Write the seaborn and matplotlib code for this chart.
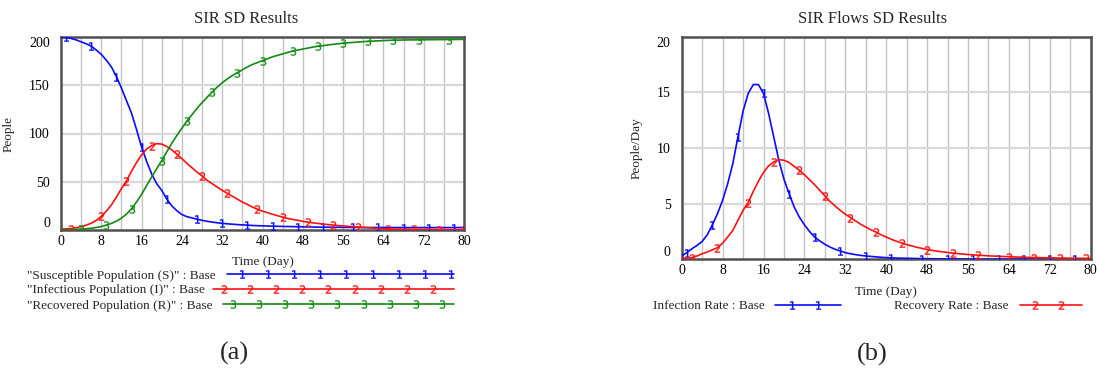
import numpy as np
import pandas as pd
import matplotlib
matplotlib.use("Agg")
import matplotlib.pyplot as plt
import seaborn as sns

# ---------------- data ----------------
days = list(range(0, 81))

susceptible = [200, 199.5, 198.5, 197, 195, 193, 190.5, 186.5, 182, 176,
               169, 159, 147, 134, 121, 104, 86, 71, 58, 48,
               41, 32, 25, 20, 16, 13.8, 12.5, 11.2, 10, 9,
               8.2, 7.5, 6.9, 6.4, 6, 5.6, 5.3, 5, 4.7, 4.5,
               4.3, 4.1, 4.0, 3.8, 3.7, 3.6, 3.5, 3.4, 3.3, 3.2,
               3.1, 3.0, 2.9, 2.9, 2.8, 2.8, 2.7, 2.7, 2.7, 2.6,
               2.6, 2.6, 2.6, 2.6, 2.6, 2.5, 2.5, 2.5, 2.5, 2.5,
               2.5, 2.5, 2.5, 2.5, 2.5, 2.5, 2.5, 2.5, 2.5, 2.5, 2.5]

infectious = [1, 1.2, 1.5, 2.3, 3.5, 5, 7, 10, 14, 19.5,
              26, 34, 43, 51, 61, 70, 78, 84, 87.5, 89.5,
              89, 86.5, 83, 78.5, 74, 69, 64.5, 60, 56, 51.5,
              48, 44.5, 41, 38, 35, 32, 29, 26.5, 23.8, 21.5,
              19.5, 18, 16.3, 14.8, 13.3, 12, 11, 10, 9, 8.2,
              7.4, 6.8, 6.2, 5.6, 5.1, 4.6, 4.2, 3.8, 3.4, 3.0,
              2.6, 2.3, 2.0, 1.6, 1.3, 1.0, 0.9, 0.8, 0.7, 0.7,
              0.6, 0.6, 0.5, 0.5, 0.5, 0.4, 0.4, 0.4, 0.3, 0.3, 0.3]

recovered = [0, 0.1, 0.3, 0.6, 0.9, 1.3, 1.8, 2.6, 3.6, 5,
             6.8, 9.2, 12.3, 16.5, 22, 29, 37, 46, 55, 63.5,
             72, 81, 90, 98, 105.5, 113, 119.5, 126, 132, 137.5,
             143, 148, 152.5, 156.5, 160, 163, 166, 169, 171.5, 173.5,
             175.5, 177.5, 179.5, 181, 182.5, 184, 185.5, 186.5, 187.5, 188.5,
             189.5, 190.5, 191, 191.8, 192.4, 193, 193.5, 194, 194.4, 194.8,
             195.2, 195.5, 195.8, 196, 196.3, 196.5, 196.7, 196.8, 196.9, 197,
             197, 197.1, 197.1, 197.2, 197.2, 197.3, 197.3, 197.4, 197.4, 197.5, 197.5]

infection_rate = [0.3, 0.6, 0.95, 1.25, 1.6, 2.2, 3.1, 4.1, 5.3, 6.8,
                  8.6, 11.0, 13.3, 14.9, 15.7, 15.7, 14.9, 13.1, 11.0, 8.9,
                  7.2, 5.9, 4.7, 3.8, 3.1, 2.5, 2.0, 1.65, 1.35, 1.1,
                  0.9, 0.75, 0.6, 0.5, 0.42, 0.35, 0.3, 0.26, 0.22, 0.18,
                  0.15, 0.13, 0.11, 0.1, 0.09, 0.08, 0.07, 0.06, 0.055, 0.05,
                  0.045, 0.04, 0.035, 0.03, 0.03, 0.03, 0.03, 0.025, 0.025, 0.025,
                  0.02, 0.02, 0.02, 0.02, 0.02, 0.02, 0.02, 0.015, 0.015, 0.015,
                  0.015, 0.015, 0.01, 0.01, 0.01, 0.01, 0.01, 0.01, 0.01, 0.01, 0.01]

recovery_rate = [0.1, 0.12, 0.15, 0.3, 0.5, 0.65, 0.85, 1.05, 1.45, 2.0,
                 2.6, 3.5, 4.4, 5.1, 6.1, 7.0, 7.8, 8.4, 8.75, 8.95,
                 8.9, 8.7, 8.35, 8.0, 7.6, 7.15, 6.7, 6.2, 5.7, 5.2,
                 4.8, 4.4, 4.05, 3.75, 3.45, 3.15, 2.9, 2.65, 2.45, 2.2,
                 2.0, 1.8, 1.62, 1.47, 1.32, 1.2, 1.08, 0.98, 0.88, 0.8,
                 0.73, 0.67, 0.61, 0.56, 0.51, 0.47, 0.43, 0.4, 0.37, 0.34,
                 0.31, 0.29, 0.27, 0.25, 0.23, 0.21, 0.2, 0.18, 0.17, 0.16,
                 0.15, 0.14, 0.13, 0.12, 0.11, 0.11, 0.1, 0.1, 0.09, 0.09, 0.08]

# days on which Vensim prints the series number on the curve
marks_s = [1, 6, 11, 16, 21, 27, 32, 37, 42, 47, 52, 58, 63, 68, 73, 78]
marks_i = [2, 8, 13, 18, 23, 28, 33, 39, 44, 49, 54, 59, 65, 70, 75, 80]
marks_r = [4, 9, 14, 20, 25, 30, 35, 40, 46, 51, 56, 61, 66, 71, 77]
marks_inf = [1, 6, 11, 16, 21, 26, 31, 36, 41, 47, 52, 57, 62, 67, 72, 77]
marks_rec = [2, 7, 13, 18, 23, 28, 33, 38, 43, 48, 53, 58, 64, 69, 74, 79]

left_labels = ['"Susceptible Population (S)" : Base',
               '"Infectious Population (I)" : Base',
               '"Recovered Population (R)" : Base']
right_labels = ['Infection Rate : Base', 'Recovery Rate : Base']

BLUE = "#0a0aff"
RED = "#ff1010"
GREEN = "#138a13"
MS = 6.0

# ---------------- style ----------------
sns.set_theme(style="white")
plt.rcParams["font.family"] = ["Liberation Serif", "DejaVu Serif"]
plt.rcParams["mathtext.fontset"] = "dejavusans"

W, H = 1097, 369
fig = plt.figure(figsize=(W / 100, H / 100), dpi=100)
fig.patch.set_facecolor("white")


def px_rect(x0, y0, x1, y1):
    return [x0 / W, 1 - y1 / H, (x1 - x0) / W, (y1 - y0) / H]


axL = fig.add_axes(px_rect(61, 37, 464, 230))
axR = fig.add_axes(px_rect(681.7, 36.7, 1090.7, 259.3))

dfL = pd.DataFrame({"day": days, "S": susceptible, "I": infectious, "R": recovered})
dfR = pd.DataFrame({"day": days, "inf": infection_rate, "rec": recovery_rate})


def draw(ax, df, col, color, digit, marks):
    sns.lineplot(data=df, x="day", y=col, ax=ax, color=color, linewidth=1.2,
                 estimator=None, marker=f"${digit}$", markevery=marks,
                 markersize=MS, markeredgecolor=color, markerfacecolor=color,
                 markeredgewidth=0.2, zorder=3)


draw(axL, dfL, "S", BLUE, 1, marks_s)
draw(axL, dfL, "I", RED, 2, marks_i)
draw(axL, dfL, "R", GREEN, 3, marks_r)
draw(axR, dfR, "inf", BLUE, 1, marks_inf)
draw(axR, dfR, "rec", RED, 2, marks_rec)


def style_axes(ax, ymax, ystep, ylabel, ylab_x, xlab_y):
    ax.set_xlim(0, 80)
    ax.set_ylim(0, ymax)
    ax.set_xticks(np.arange(0, 81, 8))
    ax.set_yticks(np.arange(0, ymax + 0.1, ystep))
    ax.grid(False)
    for x in np.arange(4, 80, 4):
        ax.axvline(x, color="#c3c3c3", lw=1.0, zorder=1)
    for y in np.arange(ystep, ymax, ystep):
        ax.axhline(y, color="#d8d8d8", lw=1.6, zorder=1)
    ax.tick_params(axis="both", which="both", length=0, labelsize=10,
                   colors="black")
    ax.tick_params(axis="x", pad=3.5)
    ax.tick_params(axis="y", pad=8)
    ax.set_yticklabels([f"{int(v)}" for v in ax.get_yticks()])
    ylabels = ax.get_yticklabels()
    ylabels[0].set_va("bottom")
    ylabels[-1].set_va("top")
    for s in ax.spines.values():
        s.set_color("#505050")
        s.set_linewidth(1.8)
    ax.set_xlabel("Time (Day)", fontsize=9.5)
    ax.xaxis.set_label_coords(0.5, xlab_y)
    ax.set_ylabel(ylabel, fontsize=9.5)
    ax.yaxis.set_label_coords(ylab_x, 0.5)


style_axes(axL, 200, 50, "People", -0.114, -0.135)
style_axes(axR, 20, 5, "People/Day", -0.095, -0.12)


def ftext(x, y, s, size, ha="center", va="center"):
    fig.text(x / W, 1 - y / H, s, fontsize=size, ha=ha, va=va)


ftext(246, 19, "SIR SD Results", 12)
ftext(873, 19, "SIR Flows SD Results", 12)
ftext(234, 353, "(a)", 19)
ftext(872, 354, "(b)", 19)

# ---------------- legends (pixel-space overlay) ----------------
leg = fig.add_axes([0, 0, 1, 1], zorder=5)
leg.set_xlim(0, W)
leg.set_ylim(H, 0)
leg.axis("off")
leg.patch.set_alpha(0)


def legend_row(label, tx, ty, x0, x1, first, step, n, color, digit):
    leg.text(tx, ty + 1.5, label, fontsize=9.5, ha="left", va="center")
    xs = [x0] + [first + k * step for k in range(n)] + [x1]
    ys = [ty] * len(xs)
    leg.plot(xs, ys, color=color, lw=1.2, marker=f"${digit}$",
             markevery=list(range(1, n + 1)), markersize=MS,
             markeredgecolor=color, markerfacecolor=color, markeredgewidth=0.2)


legend_row(left_labels[0], 27, 274, 227, 454, 242, 26.1, 9, BLUE, 1)
legend_row(left_labels[1], 27, 289, 213, 454, 224, 26.1, 9, RED, 2)
legend_row(left_labels[2], 27, 304, 223, 454, 233, 26.1, 9, GREEN, 3)
legend_row(right_labels[0], 653, 304.5, 775, 841, 792, 25.5, 2, BLUE, 1)
legend_row(right_labels[1], 894, 304.5, 1020, 1082, 1035, 26, 2, RED, 2)

fig.savefig("out.png", dpi=100, facecolor="white")
